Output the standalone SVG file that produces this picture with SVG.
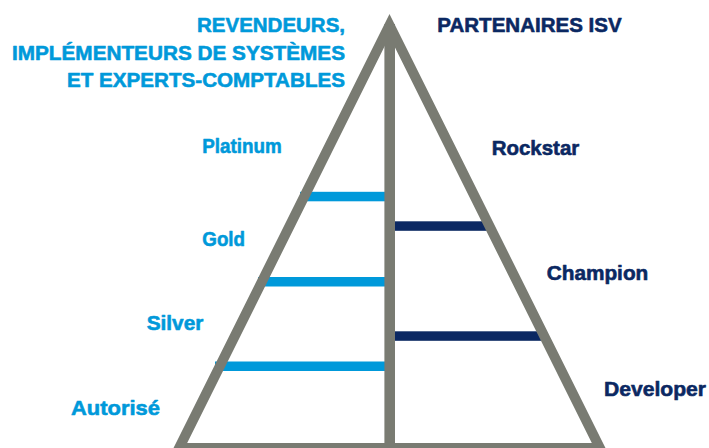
<svg xmlns="http://www.w3.org/2000/svg" width="709" height="448" viewBox="0 0 709 448">
<style>
.t{font-family:"Liberation Sans",Arial,sans-serif;font-weight:bold;font-size:21px;stroke-width:0.6px;stroke-linejoin:round}
.b{fill:#0099da;stroke:#0099da}
.n{fill:#0b2862;stroke:#0b2862}
.bar-b{fill:#0099da}
.bar-n{fill:#0b2862}
.frame{fill:none;stroke:#797b72;stroke-width:10;stroke-linejoin:miter}
</style>
<rect width="709" height="448" fill="#ffffff"/>
<g id="connectors">
<rect class="bar-b" x="300" y="191.8" width="89" height="9.5"/>
<rect class="bar-b" x="258" y="277" width="131" height="9.5"/>
<rect class="bar-b" x="215" y="361.5" width="174" height="9.5"/>
<rect class="bar-n" x="389" y="221.3" width="100" height="9.5"/>
<rect class="bar-n" x="389" y="331.3" width="155" height="9.5"/>
</g>
<g id="pyramid">
<polygon class="frame" points="389.5,25.2 179.1,448 599.9,448"/>
<rect x="384.4" y="24" width="10.6" height="430" fill="#797b72"/>
</g>
<g id="left-title">
<text class="t b" x="345" y="32" text-anchor="end" textLength="148" lengthAdjust="spacingAndGlyphs">REVENDEURS,</text>
<text class="t b" x="345" y="59.6" text-anchor="end" textLength="333" lengthAdjust="spacingAndGlyphs">IMPLÉMENTEURS DE SYSTÈMES</text>
<text class="t b" x="345" y="87" text-anchor="end" textLength="278" lengthAdjust="spacingAndGlyphs">ET EXPERTS-COMPTABLES</text>
</g>
<g id="right-title">
<text class="t n" x="437.3" y="32" textLength="184.4" lengthAdjust="spacingAndGlyphs">PARTENAIRES ISV</text>
</g>
<g id="platinum"><text class="t b" x="202.3" y="153" textLength="79.4" lengthAdjust="spacingAndGlyphs">Platinum</text></g>
<g id="gold"><text class="t b" x="202.3" y="246" textLength="42.7" lengthAdjust="spacingAndGlyphs">Gold</text></g>
<g id="silver"><text class="t b" x="146.7" y="329.8" textLength="56.6" lengthAdjust="spacingAndGlyphs">Silver</text></g>
<g id="autorise"><text class="t b" x="71" y="414.5" textLength="89" lengthAdjust="spacingAndGlyphs">Autorisé</text></g>
<g id="rockstar"><text class="t n" x="491.7" y="155" textLength="87.6" lengthAdjust="spacingAndGlyphs">Rockstar</text></g>
<g id="champion"><text class="t n" x="546.7" y="280.2" textLength="101.6" lengthAdjust="spacingAndGlyphs">Champion</text></g>
<g id="developer"><text class="t n" x="604" y="395.5" textLength="102" lengthAdjust="spacingAndGlyphs">Developer</text></g>
</svg>
